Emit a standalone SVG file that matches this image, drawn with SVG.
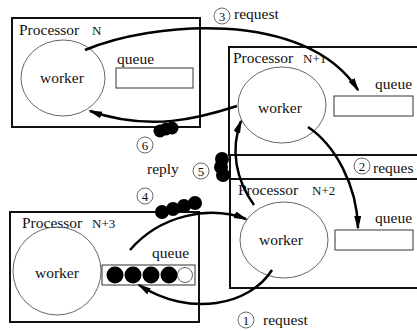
<svg xmlns="http://www.w3.org/2000/svg" width="417" height="331" viewBox="0 0 417 331">
  <style>
    .box { fill: none; stroke: #111; stroke-width: 2; }
    .worker { fill: none; stroke: #555; stroke-width: 0.9; }
    .queue { fill: none; stroke: #333; stroke-width: 1; }
    text { font-family: 'Liberation Serif', 'DejaVu Serif', serif; fill: #111; }
    .big { font-size: 15.5px; }
    .small { font-size: 13px; }
    .arrow { fill: none; stroke: #000; stroke-width: 2.5; marker-end: url(#head); }
    .num { fill: none; stroke: #444; stroke-width: 0.8; }
    .msg { fill: #000; }
  </style>
  <defs>
    <marker id="head" markerUnits="userSpaceOnUse" markerWidth="15" markerHeight="9" refX="12" refY="3.5" orient="auto">
      <path d="M0,0 L14,3.5 L0,7 Z" fill="#000"/>
    </marker>
  </defs>
  <rect width="417" height="331" fill="#fff"/>

  <g id="processor-n" font-family="Liberation Serif, DejaVu Serif, serif">
    <rect class="box" x="12" y="18" width="188" height="109"/>
    <text class="big" x="19" y="35">Processor</text>
    <text class="small" x="92" y="35">N</text>
    <ellipse class="worker" cx="63" cy="78" rx="42" ry="38"/>
    <text class="big" x="40" y="83">worker</text>
    <text class="big" x="117" y="64">queue</text>
    <rect class="queue" x="116" y="68" width="77" height="20"/>
  </g>

  <g id="processor-n1" font-family="Liberation Serif, DejaVu Serif, serif">
    <rect class="box" x="229" y="47" width="200" height="108"/>
    <text class="big" x="233" y="63">Processor</text>
    <text class="small" x="303" y="63">N+1</text>
    <ellipse class="worker" cx="282" cy="105" rx="44" ry="38"/>
    <text class="big" x="258" y="113">worker</text>
    <text class="big" x="375" y="89">queue</text>
    <rect class="queue" x="334" y="96" width="79" height="20"/>
  </g>

  <g id="processor-n2" font-family="Liberation Serif, DejaVu Serif, serif">
    <rect class="box" x="230" y="179" width="200" height="109"/>
    <line class="box" x1="230" y1="155" x2="230" y2="179"/>
    <text class="big" x="238" y="195">Processor</text>
    <text class="small" x="312" y="195">N+2</text>
    <ellipse class="worker" cx="284" cy="240" rx="44" ry="38"/>
    <text class="big" x="259" y="245">worker</text>
    <text class="big" x="375" y="223">queue</text>
    <rect class="queue" x="335" y="230" width="78" height="20"/>
  </g>

  <g id="processor-n3" font-family="Liberation Serif, DejaVu Serif, serif">
    <rect class="box" x="10" y="212" width="189" height="110"/>
    <text class="big" x="22" y="228">Processor</text>
    <text class="small" x="92" y="228">N+3</text>
    <ellipse class="worker" cx="57" cy="271" rx="44" ry="44"/>
    <text class="big" x="35" y="278">worker</text>
    <text class="big" x="152" y="258">queue</text>
    <rect class="queue" x="102" y="265" width="93" height="20"/>
    <circle class="msg" cx="115" cy="275" r="8.5"/>
    <circle class="msg" cx="133" cy="275" r="8.5"/>
    <circle class="msg" cx="151" cy="275" r="8.5"/>
    <circle class="msg" cx="169" cy="275" r="8.5"/>
    <circle class="worker" cx="185" cy="275" r="7.5"/>
  </g>

  <g id="connectors" font-family="Liberation Serif, DejaVu Serif, serif">
    <!-- (3) request: N to N+1 queue -->
    <path class="arrow" d="M85,50 C150,22 305,8 358,90"/>
    <!-- (2) request: N+1 to N+2 queue -->
    <path class="arrow" d="M308,127 C335,145 357,185 358,228"/>
    <!-- (6) reply: N+1 back to N -->
    <path class="arrow" d="M237,106 C200,118 150,132 90,111"/>
    <!-- (5) reply: N+2 back to N+1 -->
    <path class="arrow" d="M254,205 C236,180 230,150 241,121"/>
    <!-- (4) reply: N+3 back to N+2 -->
    <path class="arrow" d="M130,250 C160,215 210,205 246,219"/>
    <!-- (1) request: N+2 to N+3 queue -->
    <path class="arrow" d="M272,270 C250,305 190,318 139,285"/>

    <!-- messages in transit -->
    <circle class="msg" cx="160" cy="131" r="6.5"/>
    <circle class="msg" cx="166" cy="129" r="6.5"/>
    <circle class="msg" cx="172" cy="128" r="6.5"/>
    <circle class="msg" cx="222" cy="159" r="7"/>
    <circle class="msg" cx="221" cy="167" r="7"/>
    <circle class="msg" cx="223" cy="175" r="7"/>
    <circle class="msg" cx="162" cy="212" r="7"/>
    <circle class="msg" cx="173" cy="209" r="7"/>
    <circle class="msg" cx="184" cy="206" r="7"/>
    <circle class="msg" cx="195" cy="203" r="7"/>

    <!-- step labels -->
    <circle class="num" cx="222" cy="16" r="8"/>
    <text class="small" x="222" y="20.5" text-anchor="middle">3</text>
    <text class="big" x="234" y="19">request</text>

    <circle class="num" cx="362" cy="166" r="8"/>
    <text class="small" x="362" y="170.5" text-anchor="middle">2</text>
    <text class="big" x="373" y="173">reques</text>

    <circle class="num" cx="145" cy="145" r="8"/>
    <text class="small" x="145" y="149.5" text-anchor="middle">6</text>
    <text class="big" x="147" y="174">reply</text>
    <circle class="num" cx="201" cy="171" r="8"/>
    <text class="small" x="201" y="175.5" text-anchor="middle">5</text>

    <circle class="num" cx="145" cy="196" r="8"/>
    <text class="small" x="145" y="200.5" text-anchor="middle">4</text>

    <circle class="num" cx="246" cy="320" r="8"/>
    <text class="small" x="246" y="324.5" text-anchor="middle">1</text>
    <text class="big" x="263" y="325">request</text>
  </g>
</svg>
